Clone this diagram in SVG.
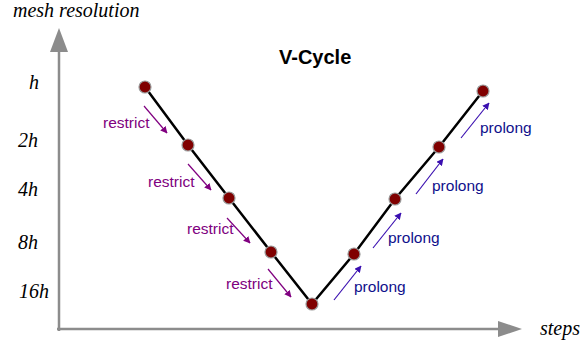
<svg xmlns="http://www.w3.org/2000/svg" width="583" height="346" viewBox="0 0 583 346">
<style>
.ax{stroke:#8c8c8c;stroke-width:2.5;fill:none}
.axh{fill:#8c8c8c}
.lbl{font-family:"Liberation Serif",serif;font-style:italic;font-size:20px;fill:#000}
.edge{stroke:#000;stroke-width:2.5;fill:none}
.node{fill:#800000;stroke:#999;stroke-width:1.2}
.rs{stroke:#800080;stroke-width:1.2;fill:none;marker-end:url(#mr)}
.pr{stroke:#3a0fb0;stroke-width:1.2;fill:none;marker-end:url(#mp)}
.rt{font-family:"Liberation Sans",Arial,sans-serif;font-size:15.5px;fill:#800080}
.pt{font-family:"Liberation Sans",Arial,sans-serif;font-size:15.5px;fill:#10108c}
</style>
<defs>
<marker id="mr" viewBox="0 0 10 10" refX="9" refY="5" markerWidth="7" markerHeight="7" markerUnits="userSpaceOnUse" orient="auto"><path d="M0,0 L10,5 L0,10 z" fill="#800080"/></marker>
<marker id="mp" viewBox="0 0 10 10" refX="9" refY="5" markerWidth="7" markerHeight="7" markerUnits="userSpaceOnUse" orient="auto"><path d="M0,0 L10,5 L0,10 z" fill="#3a0fb0"/></marker>
</defs>
<rect width="583" height="346" fill="#fff"/>
<g id="axes">
<line class="ax" x1="59" y1="331" x2="59" y2="48"/>
<path class="axh" d="M59,28 L68,52 L50,52 z"/>
<line class="ax" x1="57" y1="329" x2="502" y2="329"/>
<path class="axh" d="M522,329 L498,337 L498,321 z"/>
</g>
<g id="labels">
<text class="lbl" x="13" y="17">mesh resolution</text>
<text class="lbl" x="540" y="335">steps</text>
<text class="lbl" x="29" y="89">h</text>
<text class="lbl" x="18" y="147">2h</text>
<text class="lbl" x="18" y="196">4h</text>
<text class="lbl" x="18" y="249">8h</text>
<text class="lbl" x="19" y="298">16h</text>
<text x="279" y="64" font-family="Liberation Sans,Arial,sans-serif" font-size="20" font-weight="bold">V-Cycle</text>
</g>
<g id="connectors">
<polyline class="edge" points="145,87 188,145 229,198 271,252 312,304 354,254 395,199 439,147 483,91"/>
<line class="rs" x1="144" y1="106" x2="167" y2="133"/>
<line class="rs" x1="188" y1="164" x2="211" y2="190"/>
<line class="rs" x1="227" y1="218" x2="250" y2="243"/>
<line class="rs" x1="268" y1="269" x2="291" y2="297"/>
<line class="pr" x1="334" y1="300" x2="361" y2="266"/>
<line class="pr" x1="373" y1="248" x2="401" y2="213"/>
<line class="pr" x1="416" y1="194" x2="443" y2="159"/>
<line class="pr" x1="461" y1="138" x2="489" y2="103"/>
</g>
<g id="edge-labels">
<text class="rt" x="103" y="128">restrict</text>
<text class="rt" x="148" y="187">restrict</text>
<text class="rt" x="187" y="234">restrict</text>
<text class="rt" x="226" y="289">restrict</text>
<text class="pt" x="354" y="292">prolong</text>
<text class="pt" x="388" y="243">prolong</text>
<text class="pt" x="432" y="191">prolong</text>
<text class="pt" x="480" y="133">prolong</text>
</g>
<g id="n1"><circle class="node" cx="145" cy="87" r="6"/></g>
<g id="n2"><circle class="node" cx="188" cy="145" r="6"/></g>
<g id="n3"><circle class="node" cx="229" cy="198" r="6"/></g>
<g id="n4"><circle class="node" cx="271" cy="252" r="6"/></g>
<g id="n5"><circle class="node" cx="312" cy="304" r="6"/></g>
<g id="n6"><circle class="node" cx="354" cy="254" r="6"/></g>
<g id="n7"><circle class="node" cx="395" cy="199" r="6"/></g>
<g id="n8"><circle class="node" cx="439" cy="147" r="6"/></g>
<g id="n9"><circle class="node" cx="483" cy="91" r="6"/></g>
</svg>
